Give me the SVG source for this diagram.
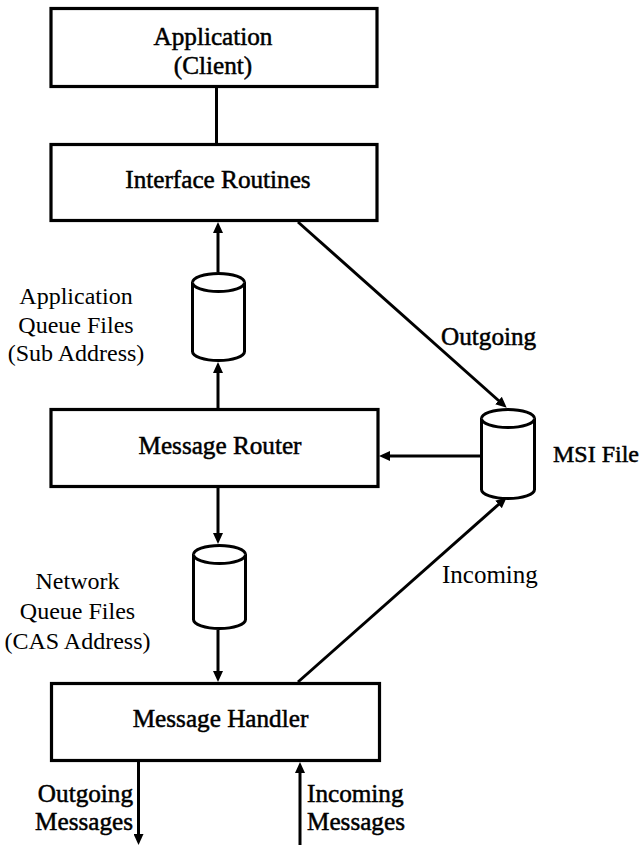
<svg xmlns="http://www.w3.org/2000/svg" width="641" height="845" viewBox="0 0 641 845">
<style>
.box{fill:#fff;stroke:#000;stroke-width:3.2}
.cyl{fill:#fff;stroke:#000;stroke-width:3}
.ln{fill:none;stroke:#000;stroke-width:3}
text{font-family:"Liberation Serif","Times New Roman",serif;font-size:24px;fill:#000}
.b{stroke:#000;stroke-width:0.5;font-size:25.2px}
.m{text-anchor:middle}
</style>
<defs>
<marker id="ah" markerUnits="userSpaceOnUse" markerWidth="11" markerHeight="10" refX="6" refY="5" orient="auto" viewBox="0 0 11 10">
<path d="M0,0 L11,5 L0,10 Z" fill="#000"/>
</marker>
</defs>
<rect width="641" height="845" fill="#fff"/>
<g id="connectors">
<line class="ln" x1="216.5" y1="87" x2="216.5" y2="144"/>
<line class="ln" x1="218" y1="272" x2="218" y2="227" marker-end="url(#ah)"/>
<line class="ln" x1="218" y1="409" x2="218" y2="367" marker-end="url(#ah)"/>
<line class="ln" x1="218" y1="488" x2="218" y2="539" marker-end="url(#ah)"/>
<line class="ln" x1="218" y1="630" x2="218" y2="677" marker-end="url(#ah)"/>
<line class="ln" x1="298" y1="222" x2="503" y2="404.5" marker-end="url(#ah)"/>
<line class="ln" x1="480" y1="456" x2="384" y2="456" marker-end="url(#ah)"/>
<line class="ln" x1="298" y1="682" x2="503" y2="500.5" marker-end="url(#ah)"/>
<line class="ln" x1="138.5" y1="762" x2="138.5" y2="840" marker-end="url(#ah)"/>
<line class="ln" x1="300" y1="845" x2="300" y2="767" marker-end="url(#ah)"/>
</g>
<g id="application">
<rect class="box" x="51" y="8.5" width="326" height="78"/>
<text class="m b" x="213" y="45">Application</text>
<text class="m b" x="213" y="74">(Client)</text>
</g>
<g id="interface-routines">
<rect class="box" x="51" y="144.5" width="326" height="76"/>
<text class="m b" x="218" y="188">Interface Routines</text>
</g>
<g id="application-queue">
<path class="cyl" d="M192.5,282.5 A26,9 0 0 1 244.5,282.5 L244.5,351.5 A26,9 0 0 1 192.5,351.5 Z"/>
<path class="cyl" d="M192.5,282.5 A26,9 0 0 0 244.5,282.5"/>
<text class="m" x="76" y="304">Application</text>
<text class="m" x="76" y="332.5">Queue Files</text>
<text class="m" x="76" y="360.5">(Sub Address)</text>
</g>
<g id="message-router">
<rect class="box" x="51" y="409.5" width="327" height="77"/>
<text class="m b" x="220" y="454">Message Router</text>
</g>
<g id="msi-file">
<path class="cyl" d="M481.5,418.5 A26.5,9 0 0 1 534.5,418.5 L534.5,489.5 A26.5,9 0 0 1 481.5,489.5 Z"/>
<path class="cyl" d="M481.5,418.5 A26.5,9 0 0 0 534.5,418.5"/>
<text class="b" x="553" y="462" style="font-size:24px">MSI File</text>
</g>
<g id="network-queue">
<path class="cyl" d="M193.5,554.5 A26,9 0 0 1 245.5,554.5 L245.5,619.5 A26,9 0 0 1 193.5,619.5 Z"/>
<path class="cyl" d="M193.5,554.5 A26,9 0 0 0 245.5,554.5"/>
<text class="m" x="77.5" y="589">Network</text>
<text class="m" x="77.5" y="619">Queue Files</text>
<text class="m" x="77.5" y="649">(CAS Address)</text>
</g>
<g id="message-handler">
<rect class="box" x="51.5" y="683.5" width="328" height="77"/>
<text class="m b" x="220.5" y="727">Message Handler</text>
</g>
<g id="labels">
<text class="b" x="441" y="345">Outgoing</text>
<text x="442" y="583" style="font-size:25px">Incoming</text>
<text class="b" x="133" y="802" text-anchor="end">Outgoing</text>
<text class="b" x="133" y="830" text-anchor="end">Messages</text>
<text class="b" x="307" y="802">Incoming</text>
<text class="b" x="307" y="830">Messages</text>
</g>
</svg>
